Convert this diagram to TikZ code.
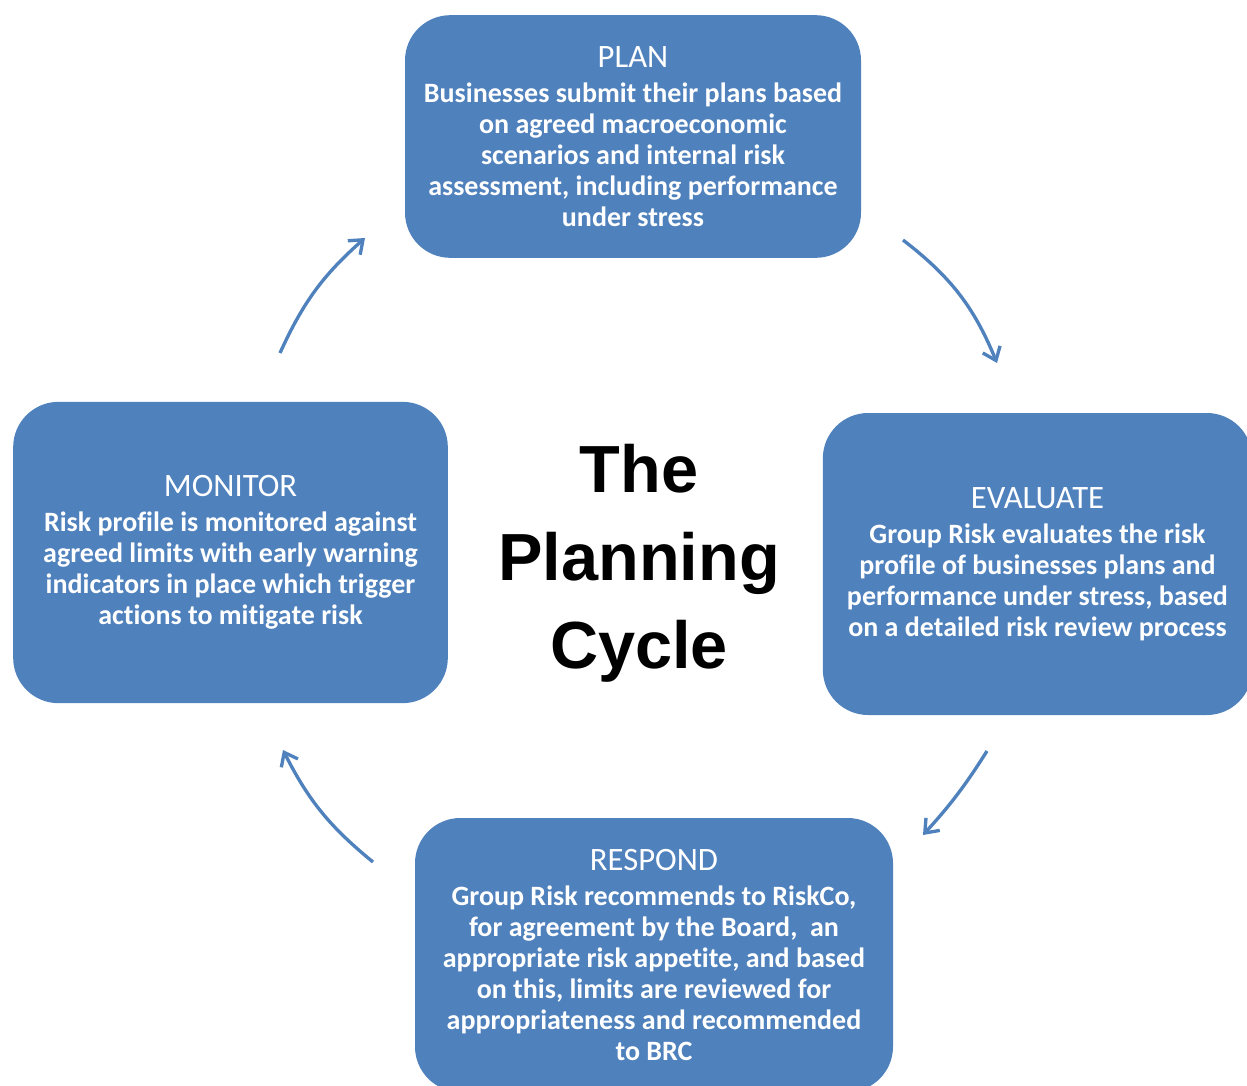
\documentclass[tikz,border=0pt]{standalone}
\usepackage{fontspec}
\setmainfont{Carlito}[Ligatures=NoCommon]
\newfontfamily\cyclefont{Liberation Sans}
\usetikzlibrary{arrows.meta}
\definecolor{boxblue}{HTML}{4F81BD}
\tikzset{>={Straight Barb[length=9pt,width=14pt]}}
\tikzset{
    stage/.style={rectangle, rounded corners=34pt, fill=boxblue, text=white, align=center,
        font=\fontsize{21}{23.25}\selectfont\bfseries, inner sep=0pt},
    cyclearrow/.style={->, line width=2.5pt, boxblue}
}
\newcommand{\stagetitle}[1]{{\fontsize{24.5}{26}\selectfont\mdseries #1}}

\begin{document}
\begin{tikzpicture}[x=0.75pt, y=-0.75pt]
    \useasboundingbox (0,0) rectangle (1247,1086);
    \clip (0,0) rectangle (1247,1086);
    \node[stage, minimum width=342pt, minimum height=182pt] (plan) at (633,136.5)
        {\stagetitle{PLAN}\\[3pt] Businesses submit their plans based\\ on agreed macroeconomic\\ scenarios and internal risk\\ assessment, including performance\\ under stress};
    \node[stage, minimum width=322pt, minimum height=226.5pt] (evaluate) at (1037.5,564)
        {\stagetitle{EVALUATE}\\[3pt] Group Risk evaluates the risk\\ profile of businesses plans and\\ performance under stress, based\\ on a detailed risk review process};
    \node[stage, minimum width=358.5pt, minimum height=205.5pt] (respond) at (654,955)
        {\stagetitle{RESPOND}\\[3pt] Group Risk recommends to RiskCo,\\ for agreement by the Board,~ an\\ appropriate risk appetite, and based\\ on this, limits are reviewed for\\ appropriateness and recommended\\ to BRC};
    \node[stage, minimum width=326pt, minimum height=226pt] (monitor) at (230.5,552.5)
        {\stagetitle{MONITOR}\\[3pt] Risk profile is monitored against\\ agreed limits with early warning\\ indicators in place which trigger\\ actions to mitigate risk};
    \node[font=\cyclefont\fontsize{50}{66}\selectfont\bfseries, align=center] (cycletitle) at (639,563.5)
        {The\\ Planning\\ Cycle};
    % arrows round the cycle
    \coordinate (pe1) at (903,240);
    \coordinate (pe2) at (997,363);
    \coordinate (er1) at (987,751);
    \coordinate (er2) at (923,835);
    \coordinate (rm1) at (373,862);
    \coordinate (rm2) at (283,750);
    \coordinate (mp1) at (280,353);
    \coordinate (mp2) at (365,238);
    \draw[cyclearrow] (pe1) to[bend left=15] (pe2);
    \draw[cyclearrow] (er1) to[bend left=5] (er2);
    \draw[cyclearrow] (rm1) to[bend left=12] (rm2);
    \draw[cyclearrow] (mp1) to[bend left=12] (mp2);
\end{tikzpicture}
\end{document}
